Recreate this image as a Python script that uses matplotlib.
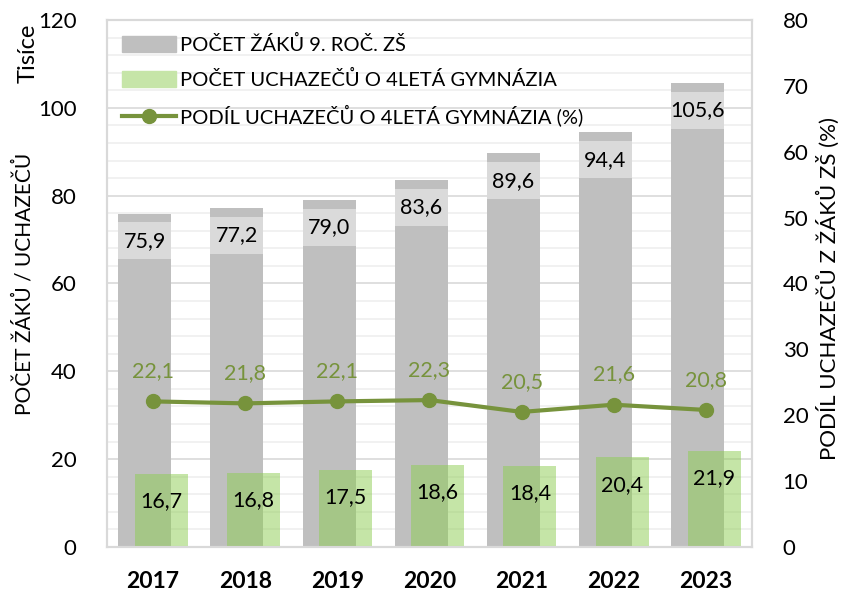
import numpy as np
import matplotlib
matplotlib.use('Agg')
import matplotlib.pyplot as plt
from matplotlib.patches import Patch
from matplotlib.lines import Line2D

plt.rcParams['font.family'] = ['Lato', 'DejaVu Sans']

years = ['2017', '2018', '2019', '2020', '2021', '2022', '2023']
zaci = [75.9, 77.2, 79.0, 83.6, 89.6, 94.4, 105.6]        # tisice
uchazeci = [16.7, 16.8, 17.5, 18.6, 18.4, 20.4, 21.9]     # tisice
podil = [22.1, 21.8, 22.1, 22.3, 20.5, 21.6, 20.8]        # %

gray = '#bfbfbf'
green = '#8dcd51'
olive = '#77933c'

def fmt(v):
    return f'{v:.1f}'.replace('.', ',')

x = np.arange(len(years))
w = 0.575
off = 0.09

fig = plt.figure(figsize=(8.47, 5.93), dpi=100)
ax1 = fig.add_axes([0.1263, 0.0776, 0.7615, 0.8887])
ax2 = ax1.twinx()

ax1.set_axisbelow(True)
ax1.bar(x - off, zaci, width=w, color=gray, zorder=2)
# label background boxes near bar tops
ax1.bar(x - off, 8.4, bottom=np.array(zaci) - 10.4, width=w, color='#dadada', zorder=3)
ax1.bar(x + off, uchazeci, width=w, color=green, alpha=0.5, zorder=4)

for i in range(len(years)):
    ax1.text(x[i] - off, zaci[i] - 6.2, fmt(zaci[i]), ha='center', va='center',
             fontsize=15.5, color='black', zorder=5)
    ax1.text(x[i] + off, uchazeci[i] - 6.2, fmt(uchazeci[i]), ha='center', va='center',
             fontsize=15.5, color='black', zorder=5)

ax2.plot(x, podil, color=olive, lw=3, marker='o', markersize=10, zorder=5)
for i in range(len(years)):
    ax2.text(x[i], podil[i] + 4.6, fmt(podil[i]), ha='center', va='center',
             fontsize=15.5, color=olive)

ax1.set_xlim(-0.5, len(years) - 0.5)
ax1.set_ylim(0, 120)
ax2.set_ylim(0, 80)
ax1.set_yticks(np.arange(0, 121, 20))
ax1.set_yticks(np.arange(0, 121, 4), minor=True)
ax2.set_yticks(np.arange(0, 81, 10))
ax1.set_xticks(x)
ax1.set_xticklabels(years, fontsize=16.5, fontweight='bold')

ax1.grid(axis='y', which='major', color='#d9d9d9', lw=1.2)
ax1.grid(axis='y', which='minor', color='#efefef', lw=1.2)

ax1.tick_params(axis='y', which='both', length=0, labelsize=16, pad=22)
ax1.tick_params(axis='x', length=0, pad=17)
ax2.tick_params(axis='y', length=0, labelsize=16, pad=22)

for ax in (ax1, ax2):
    for s in ax.spines.values():
        s.set_color('#d9d9d9')
        s.set_linewidth(1.5)

ax1.set_ylabel('POČET ŽÁKŮ / UCHAZEČŮ', fontsize=15)
ax1.yaxis.set_label_coords(-0.113, 0.5)
ax2.set_ylabel('PODÍL UCHAZEČŮ Z ŽÁKŮ ZŠ (%)', fontsize=16)
ax2.yaxis.set_label_coords(1.1, 0.49)
fig.text(0.033, 0.96, 'Tisíce', rotation=90, ha='center', va='top', fontsize=17)

handles = [Patch(color=gray), Patch(color='#c6e5a8'),
           Line2D([0], [0], color=olive, lw=3, marker='o', markersize=10)]
labels = ['POČET ŽÁKŮ 9. ROČ. ZŠ', 'POČET UCHAZEČŮ O 4LETÁ GYMNÁZIA',
          'PODÍL UCHAZEČŮ O 4LETÁ GYMNÁZIA (%)']
ax2.legend(handles, labels, loc='upper left', bbox_to_anchor=(0.0, 1.0), frameon=False,
           fontsize=14.5, handlelength=2.7, handleheight=0.8, labelspacing=0.78,
           handletextpad=0.2, borderaxespad=0.35)

fig.savefig('out.png', dpi=100)
